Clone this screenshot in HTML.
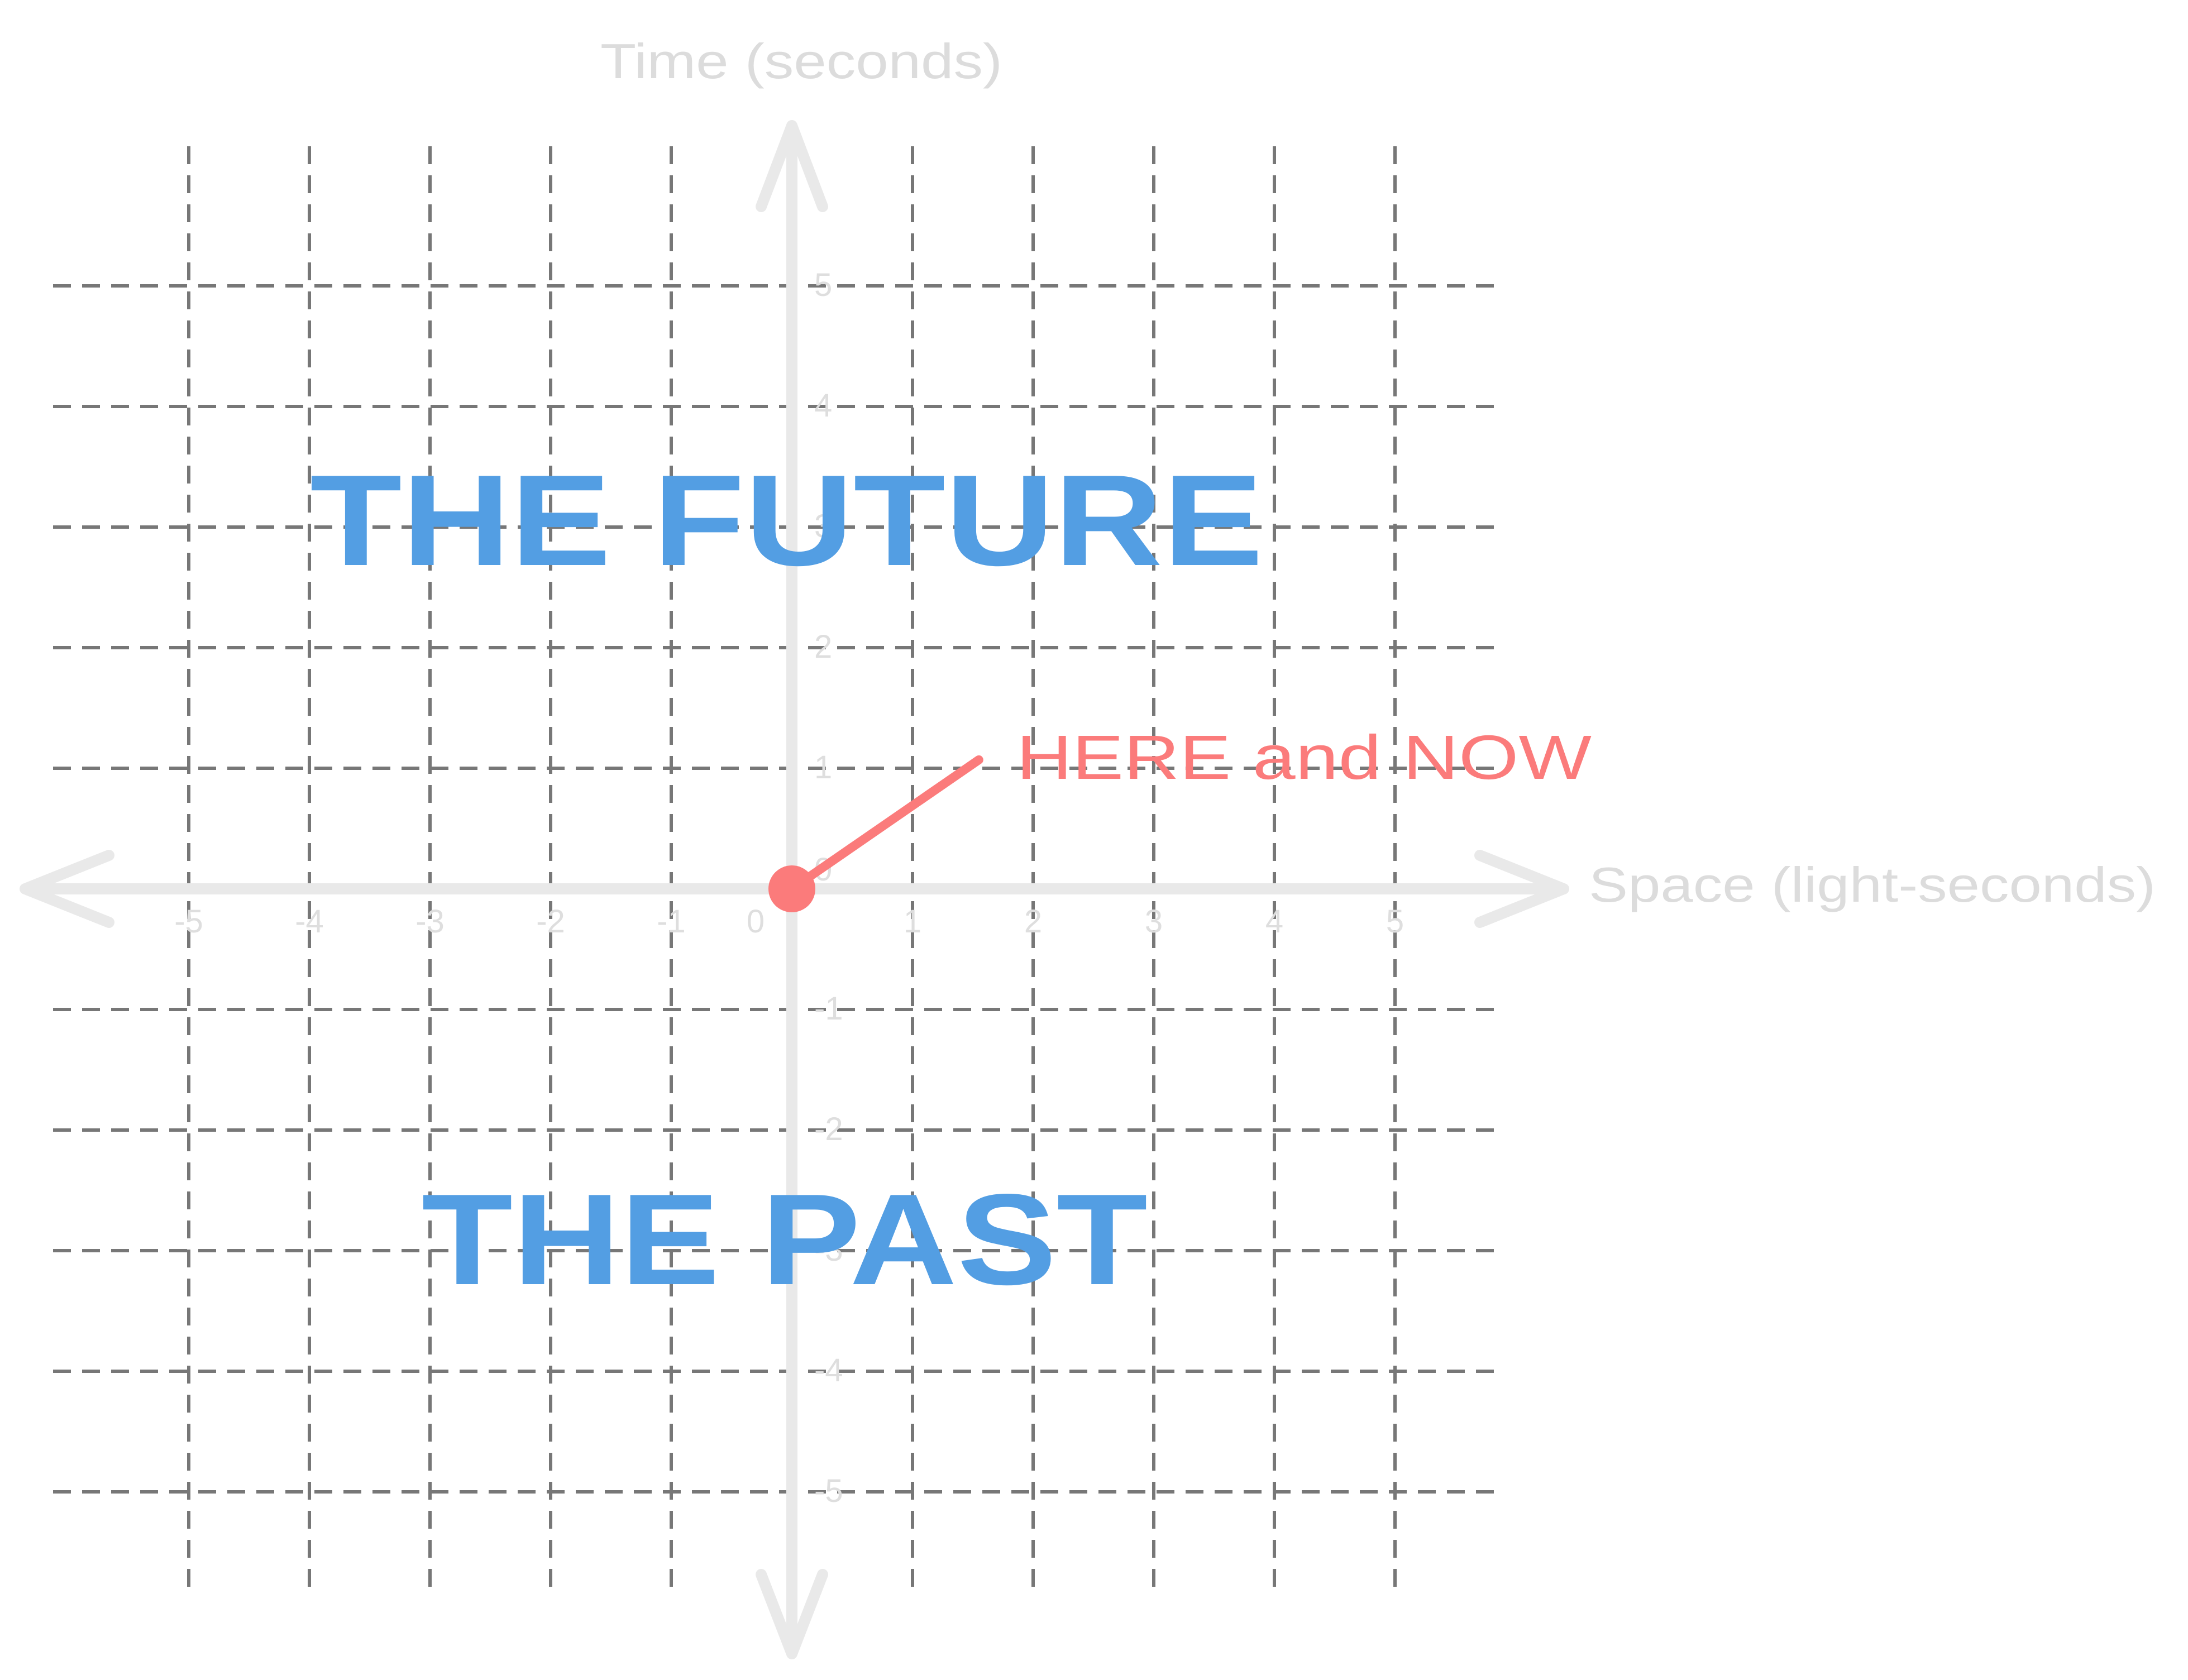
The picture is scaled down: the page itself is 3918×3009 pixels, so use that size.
<!DOCTYPE html>
<html><head><meta charset="utf-8">
<style>
html,body{margin:0;padding:0;background:#fff;}
svg{display:block;}
</style></head>
<body>
<svg id="chart" width="3918" height="3009" viewBox="0 0 3918 3009" xmlns="http://www.w3.org/2000/svg">
<rect width="3918" height="3009" fill="#fff"/>
<g id="grid"></g>
<g id="axes"></g>
<g id="ticks"></g>
<text x="1075" y="140" font-family="Liberation Sans, sans-serif" font-size="88" fill="#dcdcdc" textLength="720" lengthAdjust="spacingAndGlyphs">Time (seconds)</text>
<text x="2845" y="1615" font-family="Liberation Sans, sans-serif" font-size="88" fill="#dcdcdc" textLength="1015" lengthAdjust="spacingAndGlyphs">Space (light-seconds)</text>
<text x="555" y="1012" font-family="Liberation Sans, sans-serif" font-weight="bold" font-size="232" fill="#539ee3" textLength="1707" lengthAdjust="spacingAndGlyphs">THE FUTURE</text>
<text x="755" y="2300" font-family="Liberation Sans, sans-serif" font-weight="bold" font-size="232" fill="#539ee3" textLength="1300" lengthAdjust="spacingAndGlyphs">THE PAST</text>
<g id="event"></g>
<text x="1820" y="1395" font-family="Liberation Sans, sans-serif" font-size="112" fill="#fb7b7b" textLength="1030" lengthAdjust="spacingAndGlyphs">HERE and NOW</text>
</svg>
<script>
const xTicks = [-5,-4,-3,-2,-1,0,1,2,3,4,5];
const yTicks = [5,4,3,2,1,0,-1,-2,-3,-4,-5];
const gridValues = [-5,-4,-3,-2,-1,1,2,3,4,5];
const eventPoint = [0,0];
const labelPoint = [1.55,1.07];

const NS="http://www.w3.org/2000/svg";
const unit=216, ox=1418, oy=1592;
const xs=v=>ox+v*unit, ys=v=>oy-v*unit;
function mk(tag,attrs,parent){const e=document.createElementNS(NS,tag);for(const k in attrs)e.setAttribute(k,attrs[k]);parent.appendChild(e);return e;}
const grid=document.getElementById('grid');
gridValues.forEach(v=>{
  const l=mk('line',{x1:xs(v),x2:xs(v),y1:262,y2:2862,stroke:'#777',"stroke-width":6,"stroke-dasharray":"32 20"},grid);
  
  
  const h=mk('line',{x1:95,x2:2695,y1:ys(v),y2:ys(v),stroke:'#777',"stroke-width":6,"stroke-dasharray":"32 20"},grid);
  
  
});
const axes=document.getElementById('axes');
const ax=mk('path',{d:`M45 ${oy} L2800 ${oy} M195 ${oy-60} L45 ${oy} L195 ${oy+60} M2650 ${oy-60} L2800 ${oy} L2650 ${oy+60}`,stroke:'#e9e9e9',"stroke-width":20,fill:'none',"stroke-linecap":'round',"stroke-linejoin":'round'},axes);


const ay=mk('path',{d:`M${ox} 225 L${ox} 2962 M${ox-55} 370 L${ox} 225 L${ox+55} 370 M${ox-55} 2820 L${ox} 2962 L${ox+55} 2820`,stroke:'#e9e9e9',"stroke-width":20,fill:'none',"stroke-linecap":'round',"stroke-linejoin":'round'},axes);


const ticks=document.getElementById('ticks');
xTicks.forEach(v=>{
  const t=mk('text',{x:xs(v)-(v===0?65:0),y:oy+78,"font-family":"Liberation Sans, sans-serif","font-size":58,fill:'#dedede',"text-anchor":'middle'},ticks);
  t.textContent=String(v);
  
  
});
yTicks.forEach(v=>{
  const t=mk('text',{x:ox+40,y:ys(v)+(v===0?-15:18),"font-family":"Liberation Sans, sans-serif","font-size":58,fill:'#dedede'},ticks);
  t.textContent=String(v);
  
  
});
const ev=document.getElementById('event');
const ln=mk('line',{x1:xs(eventPoint[0]),y1:ys(eventPoint[1]),x2:xs(labelPoint[0]),y2:ys(labelPoint[1]),stroke:'#fb7b7b',"stroke-width":16,"stroke-linecap":'round'},ev);


const dot=mk('circle',{cx:xs(eventPoint[0]),cy:ys(eventPoint[1]),r:42,fill:'#fb7b7b'},ev);


</script>
</body></html>
